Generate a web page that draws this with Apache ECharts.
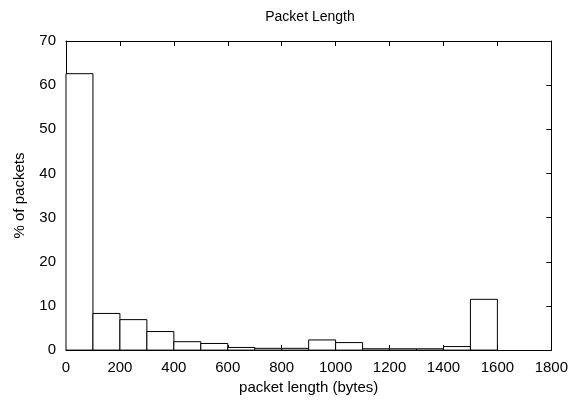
<!DOCTYPE html>
<html>
<head>
<meta charset="utf-8">
<script src="https://cdn.jsdelivr.net/npm/echarts@6/dist/echarts.min.js"></script>
<style>
  html, body { margin: 0; padding: 0; background: #fff; }
  #chart { width: 571px; height: 400px; }
</style>
</head>
<body>
<div id="chart"></div>
<script>
// histogram bins (bytes) and share of packets (%)
const binStart = [0, 100, 200, 300, 400, 500, 600, 700, 800, 900, 1000, 1100, 1200, 1300, 1400, 1500];
const binWidth = 100;
const percent = [62.6, 8.3, 6.9, 4.2, 1.9, 1.5, 0.6, 0.4, 0.4, 2.3, 1.7, 0.3, 0.3, 0.3, 0.8, 11.5];
const xTicks = [0, 200, 400, 600, 800, 1000, 1200, 1400, 1600, 1800];
const yTicks = [0, 10, 20, 30, 40, 50, 60, 70];

const font = "'Liberation Sans', Arial, sans-serif";
const chart = echarts.init(document.getElementById("chart"));

const data = binStart.map((s, i) => [s, s + binWidth, percent[i]]);

function axisBase() {
    return {
        type: "value",
        axisLine: { show: true, onZero: false, lineStyle: { color: "#000", width: 1 } },
        axisTick: { show: true, inside: true, length: 5, lineStyle: { color: "#000" } },
        splitLine: { show: false },
    };
}

const labelStyle = { fontFamily: font, fontSize: 15, color: "#000" };

chart.setOption({
    animation: false,
    backgroundColor: "#fff",
    title: {
        text: "Packet Length",
        left: 305,
        top: 5,
        textAlign: "center",
        textStyle: { fontFamily: font, fontSize: 14, fontWeight: "normal", color: "#000" },
    },
    grid: { left: 66, right: 18, top: 41, bottom: 49 },
    xAxis: [
        Object.assign(axisBase(), {
            min: xTicks[0],
            max: xTicks[xTicks.length - 1],
            interval: 200,
            name: "packet length (bytes)",
            nameLocation: "middle",
            nameGap: 29,
            nameTextStyle: labelStyle,
            axisLabel: Object.assign({ margin: 10, formatter: (v) => String(v) }, labelStyle),
        }),
        Object.assign(axisBase(), {
            position: "top",
            min: xTicks[0],
            max: xTicks[xTicks.length - 1],
            interval: 200,
            axisLabel: { show: false },
        }),
    ],
    yAxis: [
        Object.assign(axisBase(), {
            min: yTicks[0],
            max: yTicks[yTicks.length - 1],
            interval: 10,
            name: "% of packets",
            nameLocation: "middle",
            nameGap: 39,
            nameTextStyle: labelStyle,
            axisLabel: Object.assign({ margin: 10, formatter: (v) => String(v) }, labelStyle),
        }),
        Object.assign(axisBase(), {
            position: "right",
            min: yTicks[0],
            max: yTicks[yTicks.length - 1],
            interval: 10,
            axisLabel: { show: false },
        }),
    ],
    series: [
        {
            type: "custom",
            xAxisIndex: 0,
            yAxisIndex: 0,
            data: data,
            encode: { x: [0, 1], y: 2 },
            renderItem: function (params, api) {
                const p0 = api.coord([api.value(0), api.value(2)]);
                const p1 = api.coord([api.value(1), 0]);
                return {
                    type: "rect",
                    shape: { x: p0[0], y: p0[1], width: p1[0] - p0[0], height: p1[1] - p0[1] },
                    style: { fill: "#fff", stroke: "#000", lineWidth: 1 },
                };
            },
        },
    ],
});
</script>
</body>
</html>
